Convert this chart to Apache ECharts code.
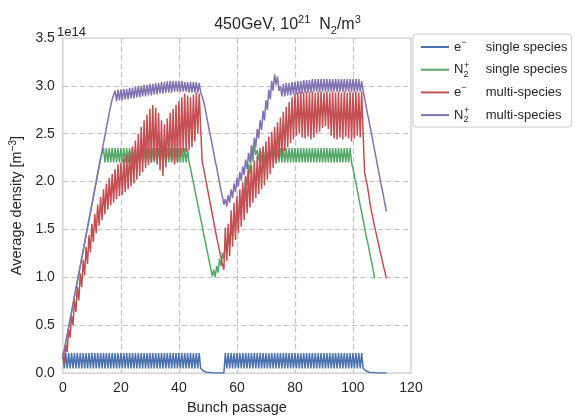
<!DOCTYPE html>
<html><head><meta charset="utf-8">
<script src="https://cdn.jsdelivr.net/npm/echarts@6/dist/echarts.min.js"></script>
<style>html,body{margin:0;padding:0;background:#fff}#c{width:575px;height:420px}</style>
</head><body><div id="c"></div>
<script>
// ---- data (densities in units of 1e14 m^-3), one sample every half bunch passage ----
const sampleStep = 0.5;
const xTicks = [0, 20, 40, 60, 80, 100, 120];
const yTicks = [0.0, 0.5, 1.0, 1.5, 2.0, 2.5, 3.0, 3.5];
const seriesNames = ['e- single species', 'N2+ single species', 'e- multi-species', 'N2+ multi-species'];
const seriesColors = ['#4C72B0', '#55A868', '#C44E52', '#8172B2'];

const eSingle = [
  0.21,0.05,0.21,0.05,0.21,0.05,0.21,0.05,0.21,0.05,0.21,0.05,0.21,0.05,0.21,0.05,0.21,0.05,0.21,0.05,0.21,0.05,0.21,0.05,
  0.21,0.05,0.21,0.05,0.21,0.05,0.21,0.05,0.21,0.05,0.21,0.05,0.21,0.05,0.21,0.05,0.21,0.05,0.21,0.05,0.21,0.05,0.21,0.05,
  0.21,0.05,0.21,0.05,0.21,0.05,0.21,0.05,0.21,0.05,0.21,0.05,0.21,0.05,0.21,0.05,0.21,0.05,0.21,0.05,0.21,0.05,0.21,0.05,
  0.21,0.05,0.21,0.05,0.21,0.05,0.21,0.05,0.21,0.05,0.21,0.05,0.21,0.05,0.21,0.05,0.21,0.05,0.21,0.05,0.21,0.05,0.21,0.05,
  0.035,0.022,0.014,0.010,0.007,0.005,0.004,0.003,0.003,0.002,0.002,0.002,0.002,0.002,0.002,0.002,
  0.21,0.05,0.21,0.05,0.21,0.05,0.21,0.05,0.21,0.05,0.21,0.05,0.21,0.05,0.21,0.05,0.21,0.05,0.21,0.05,0.21,0.05,0.21,0.05,
  0.21,0.05,0.21,0.05,0.21,0.05,0.21,0.05,0.21,0.05,0.21,0.05,0.21,0.05,0.21,0.05,0.21,0.05,0.21,0.05,0.21,0.05,0.21,0.05,
  0.21,0.05,0.21,0.05,0.21,0.05,0.21,0.05,0.21,0.05,0.21,0.05,0.21,0.05,0.21,0.05,0.21,0.05,0.21,0.05,0.21,0.05,0.21,0.05,
  0.21,0.05,0.21,0.05,0.21,0.05,0.21,0.05,0.21,0.05,0.21,0.05,0.21,0.05,0.21,0.05,0.21,0.05,0.21,0.05,0.21,0.05,0.21,0.05,
  0.035,0.022,0.014,0.010,0.007,0.005,0.004,0.003,0.003,0.002,0.002,0.002,0.002,0.002,0.002,0.002
];

const ionSingle = [
  0.16,0.16,0.32,0.32,0.48,0.48,0.64,0.64,0.80,0.80,0.96,0.96,1.12,1.12,1.28,1.28,1.44,1.44,1.60,1.60,1.76,1.76,1.92,1.92,2.08,2.08,2.24,2.24,
  2.35,2.20,2.35,2.20,2.35,2.20,2.35,2.20,2.35,2.20,2.35,2.20,2.35,2.20,2.35,2.20,2.35,2.20,2.35,2.20,2.35,2.20,2.35,2.20,
  2.35,2.20,2.35,2.20,2.35,2.20,2.35,2.20,2.35,2.20,2.35,2.20,2.35,2.20,2.35,2.20,2.35,2.20,2.35,2.20,2.35,2.20,2.35,2.20,
  2.35,2.20,2.35,2.20,2.35,2.20,2.35,2.20,2.35,2.20,2.34,2.20,
  2.14,2.06,1.99,1.91,1.84,1.76,1.69,1.61,1.54,1.46,1.39,1.31,1.24,1.16,1.09,1.01,
  1.08,1.00,1.12,1.05,1.19,1.12,1.26,1.19,1.34,1.26,1.42,1.34,1.51,1.43,1.61,1.52,
  1.71,1.62,1.82,1.73,1.93,1.84,2.05,1.96,2.18,2.08,2.31,2.21,2.39,2.28,2.33,2.22,
  2.35,2.20,2.35,2.20,2.35,2.20,2.35,2.20,2.35,2.20,2.35,2.20,2.35,2.20,2.35,2.20,2.35,2.20,2.35,2.20,2.35,2.20,2.35,2.20,
  2.35,2.20,2.35,2.20,2.35,2.20,2.35,2.20,2.35,2.20,2.35,2.20,2.35,2.20,2.35,2.20,2.35,2.20,2.35,2.20,2.35,2.20,2.35,2.20,
  2.35,2.20,2.35,2.20,2.35,2.20,2.35,2.20,2.35,2.20,2.35,2.20,2.35,2.20,2.35,2.20,
  2.14,2.06,1.99,1.91,1.83,1.75,1.68,1.60,1.52,1.44,1.37,1.30,1.22,1.15,1.07,0.99
];

const eMulti = [
  0.16,0.10,0.30,0.22,0.46,0.37,0.60,0.50,0.76,0.64,0.90,0.76,1.04,0.90,1.18,1.02,1.32,1.14,1.44,1.26,
  1.56,1.37,1.66,1.46,1.76,1.54,1.84,1.60,1.92,1.66,1.98,1.71,2.04,1.75,2.08,1.78,2.13,1.82,2.18,1.85,
  2.20,1.86,2.24,1.89,2.28,1.92,2.32,1.95,2.37,1.98,2.43,2.02,2.50,2.06,2.57,2.10,2.64,2.14,2.70,2.17,2.76,2.20,2.80,2.22,
  2.77,2.18,2.72,2.12,2.64,2.06,2.60,2.15,2.66,2.24,2.72,2.22,2.76,2.18,2.80,2.20,
  2.84,2.26,2.88,2.30,2.92,2.31,2.90,2.33,2.88,2.36,2.91,2.42,2.93,2.50,2.92,2.56,
  2.22,2.14,2.06,1.98,1.90,1.82,1.74,1.66,1.58,1.50,1.42,1.35,1.28,1.21,1.14,1.08,
  1.52,1.17,1.56,1.22,1.70,1.32,1.78,1.39,1.85,1.46,1.92,1.53,1.99,1.60,2.06,1.67,2.12,1.73,2.17,1.78,
  2.22,1.83,2.27,1.87,2.32,1.92,2.37,1.96,2.42,2.02,2.47,2.08,2.52,2.14,2.57,2.19,2.62,2.24,2.67,2.28,
  2.73,2.32,2.78,2.36,2.83,2.40,2.88,2.44,2.92,2.48,
  2.93,2.50,2.94,2.46,2.93,2.45,2.94,2.47,2.93,2.44,2.94,2.46,2.93,2.50,2.94,2.52,2.94,2.56,2.93,2.58,
  2.94,2.55,2.93,2.48,2.94,2.45,2.93,2.44,2.94,2.46,2.93,2.44,2.94,2.47,2.93,2.45,2.94,2.42,2.93,2.45,
  2.94,2.48,2.93,2.46,2.94,2.50,
  2.10,2.02,1.95,1.85,1.75,1.67,1.60,1.52,1.46,1.39,1.32,1.25,1.19,1.12,1.06,0.99
];

const ionMulti = [
  0.16,0.16,0.32,0.32,0.48,0.48,0.64,0.64,0.80,0.80,0.96,0.96,1.12,1.12,1.28,1.28,1.44,1.44,
  1.60,1.60,1.76,1.76,1.92,1.92,2.08,2.08,2.24,2.24,2.40,2.40,2.56,2.56,2.72,2.72,2.86,2.86,
  2.95,2.84,2.96,2.85,2.96,2.85,2.97,2.86,2.97,2.86,2.98,2.87,2.98,2.87,2.99,2.88,3.00,2.88,3.00,2.89,
  3.01,2.89,3.01,2.90,3.02,2.90,3.02,2.91,3.03,2.91,3.03,2.92,3.04,2.92,3.04,2.93,3.05,2.93,3.05,2.93,
  3.05,2.94,3.05,2.94,3.05,2.94,3.05,2.94,3.04,2.94,3.04,2.93,3.04,2.93,3.04,2.93,3.04,2.93,3.03,2.93,
  2.92,2.84,2.77,2.69,2.61,2.53,2.46,2.38,2.30,2.22,2.15,2.07,1.99,1.91,1.84,1.76,
  1.82,1.74,1.86,1.78,1.92,1.83,1.98,1.89,2.04,1.95,2.10,2.01,2.16,2.07,2.23,2.13,2.30,2.20,2.38,2.28,
  2.46,2.36,2.55,2.45,2.64,2.54,2.74,2.64,2.85,2.75,2.96,2.86,3.05,2.95,3.12,3.01,3.10,2.95,3.00,2.89,
  3.02,2.89,3.03,2.90,3.03,2.90,3.04,2.91,3.04,2.91,3.05,2.92,3.05,2.92,3.06,2.93,3.06,2.93,3.06,2.93,
  3.07,2.94,3.07,2.94,3.07,2.94,3.07,2.94,3.07,2.94,3.07,2.94,3.07,2.94,3.07,2.94,3.07,2.94,
  3.07,2.94,3.07,2.94,3.07,2.94,3.07,2.94,3.07,2.94,3.07,2.94,3.07,2.94,3.07,2.94,
  3.05,2.95,
  2.87,2.79,2.71,2.64,2.56,2.48,2.40,2.32,2.24,2.16,2.08,2.00,1.93,1.85,1.77,1.69
];

// ---- chart ----
const FONT = '"Liberation Sans", Arial, sans-serif';
const TXT = '#262626';
const allSeries = [eSingle, ionSingle, eMulti, ionMulti];
const toPairs = arr => arr.map((v, i) => [i * sampleStep, v]);

const legendLabels = {
  'e- single species': '{b|e}{supw|\u2212}{b|single species}',
  'N2+ single species': '{b|N}{subn|2}{supw2|+}{b|single species}',
  'e- multi-species': '{b|e}{supw|\u2212}{b|multi-species}',
  'N2+ multi-species': '{b|N}{subn|2}{supw2|+}{b|multi-species}'
};

const chart = echarts.init(document.getElementById('c'), null, {renderer: 'canvas'});
chart.setOption({
  animation: false,
  backgroundColor: '#ffffff',
  title: {
    text: '{a|450GeV, 10}{sup|21}{a|  N}{sub|2}{a|/m}{sup|3}',
    left: 'center', top: 9,
    textStyle: {
      fontWeight: 'normal',
      rich: {
        a: {fontFamily: FONT, fontSize: 16, fontWeight: 'normal', color: TXT, lineHeight: 22},
        sup: {fontFamily: FONT, fontSize: 11, fontWeight: 'normal', color: TXT, lineHeight: 12, verticalAlign: 'top'},
        sub: {fontFamily: FONT, fontSize: 11, fontWeight: 'normal', color: TXT, lineHeight: 12, verticalAlign: 'bottom'}
      }
    }
  },
  graphic: [{
    type: 'text', left: 57, top: 26,
    style: {text: '1e14', fontFamily: FONT, fontSize: 13, fill: TXT}
  }],
  legend: {
    orient: 'vertical', left: 413, top: 34,
    padding: [4, 4, 3, 8], itemGap: 4.7,
    itemWidth: 28, itemHeight: 2, icon: 'rect',
    borderColor: '#cccccc', borderWidth: 1, borderRadius: 3, backgroundColor: '#ffffff',
    data: seriesNames,
    formatter: name => legendLabels[name],
    textStyle: {
      color: TXT, fontFamily: FONT, fontSize: 13, lineHeight: 18,
      rich: {
        b: {fontFamily: FONT, fontSize: 13, color: TXT, lineHeight: 18},
        supw: {fontFamily: FONT, fontSize: 9, color: TXT, lineHeight: 10, verticalAlign: 'top', width: 24.5},
        subn: {fontFamily: FONT, fontSize: 9, color: TXT, lineHeight: 10, verticalAlign: 'bottom', width: 0.5},
        supw2: {fontFamily: FONT, fontSize: 9, color: TXT, lineHeight: 10, verticalAlign: 'top', width: 21.8}
      }
    }
  },
  grid: {
    left: 58, right: 164, top: 38, bottom: 44, containLabel: false,
    show: true, borderColor: '#cccccc', borderWidth: 1.25, backgroundColor: '#ffffff'
  },
  xAxis: {
    type: 'value', min: xTicks[0], max: xTicks[xTicks.length - 1], interval: xTicks[1] - xTicks[0],
    name: 'Bunch passage', nameLocation: 'middle', nameGap: 25,
    nameTextStyle: {fontFamily: FONT, fontSize: 14.5, color: TXT},
    axisLine: {show: false}, axisTick: {show: false},
    axisLabel: {fontFamily: FONT, fontSize: 14, color: TXT, margin: 8},
    splitLine: {show: true, showMinLine: false, showMaxLine: false,
      lineStyle: {color: '#c4c4c4', width: 1.2, type: [5.5, 3]}}
  },
  yAxis: {
    type: 'value', min: yTicks[0], max: yTicks[yTicks.length - 1], interval: yTicks[1] - yTicks[0],
    name: '{a|Average density [m}{sup|\u22123}{a|]}', nameLocation: 'middle', nameGap: 32,
    nameTextStyle: {
      rich: {
        a: {fontFamily: FONT, fontSize: 14.5, color: TXT, lineHeight: 18},
        sup: {fontFamily: FONT, fontSize: 10, color: TXT, lineHeight: 10, verticalAlign: 'top'}
      }
    },
    axisLine: {show: false}, axisTick: {show: false},
    axisLabel: {fontFamily: FONT, fontSize: 14, color: TXT, margin: 8, formatter: v => v.toFixed(1)},
    splitLine: {show: true, showMinLine: false, showMaxLine: false,
      lineStyle: {color: '#c4c4c4', width: 1.2, type: [5.5, 3]}}
  },
  series: allSeries.map((arr, k) => ({
    name: seriesNames[k], type: 'line', data: toPairs(arr),
    showSymbol: false, symbol: 'none', clip: true,
    color: seriesColors[k],
    lineStyle: {color: seriesColors[k], width: 1.5},
    emphasis: {disabled: true}
  }))
});
</script>
</body></html>
